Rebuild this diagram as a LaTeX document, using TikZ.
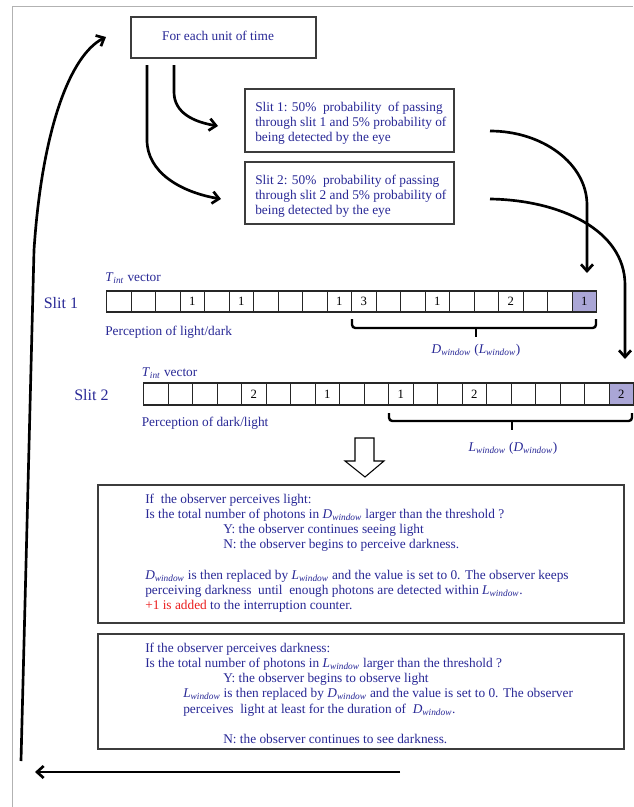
\documentclass[tikz,border=0pt]{standalone}
\usepackage{fontspec}
\setmainfont{Liberation Serif}
\usetikzlibrary{arrows.meta}
\definecolor{navy}{RGB}{40,40,150}
\definecolor{lav}{RGB}{170,166,214}
\definecolor{redtxt}{RGB}{235,30,30}
\definecolor{boxline}{RGB}{60,60,60}
\newcommand\Dwin{\textit{D}\textsubscript{\textit{window}}}
\newcommand\Lwin{\textit{L}\textsubscript{\textit{window}}}
\newcommand\Tintv{\textit{T}\textsubscript{\textit{int}}}
\begin{document}
\begin{tikzpicture}[x=0.75pt,y=-0.75pt,
  txt/.style={anchor=base west, inner sep=0pt, font=\fontsize{10}{12}\selectfont, text=navy},
  ctxt/.style={anchor=base, inner sep=0pt, font=\fontsize{10}{12}\selectfont, text=navy},
  slitlab/.style={anchor=base west, inner sep=0pt, font=\fontsize{12}{14}\selectfont, text=navy},
  box/.style={draw=boxline, line width=0.9pt, inner sep=0pt, outer sep=0pt},
  flow/.style={line width=2pt, -{Straight Barb[length=5pt,width=9pt]}},
  cell/.style={draw=black!85, line width=0.6pt, minimum width=18.375pt, minimum height=15.75pt, inner sep=0pt, outer sep=0pt},
  digit/.style={inner sep=0pt, font=\fontsize{9.5}{11}\selectfont},
  bracket/.style={line width=1.8pt, rounded corners=2.5pt},
  hollow/.style={draw=black, line width=0.8pt, fill=white}]
\useasboundingbox (0,0) rectangle (633,807);
\fill[white] (0,0) rectangle (633,807);
% frame
\draw[gray!60, line width=0.6pt] (12,807) -- (12,6) -- (633,6);

% top box
\node[box, minimum width=138.75pt, minimum height=30.75pt] (top) at (223.5,37.5) {};
\node[ctxt] (toptxt) at (218,40) {For each unit of time};

% slit boxes
\node[box, minimum width=156.75pt, minimum height=47.25pt] (s1box) at (349.5,120.5) {};
\node[txt] (s1l1) at (255,111) {Slit 1: 50\%\ \ probability\ \ of passing};
\node[txt] (s1l2) at (255,126) {through slit 1 and 5\% probability of};
\node[txt] (s1l3) at (255,141) {being detected by the eye};

\node[box, minimum width=156.75pt, minimum height=46.5pt] (s2box) at (349.5,193) {};
\node[txt] (s2l1) at (255,184) {Slit 2: 50\%\ \ probability of passing};
\node[txt] (s2l2) at (255,199) {through slit 2 and 5\% probability of};
\node[txt] (s2l3) at (255,214) {being detected by the eye};

% connectors top -> slits
\coordinate (aS) at (174,65);
\coordinate (aE) at (218,126);
\coordinate (bS) at (147,65);
\coordinate (bE) at (221,199);
\draw[flow] (aS) -- (174,92) .. controls (174,113) and (194,122) .. (aE);
\draw[flow] (bS) -- (147,140) .. controls (147,172) and (180,192) .. (bE);

% slit 1 row
\node[slitlab] (sl1) at (43.5,308) {Slit 1};
\node[txt] (tv1) at (105,281) {\Tintv\ vector};
\node[txt] (pc1) at (105,335) {Perception of light/dark};
\foreach \i in {0,...,18} \node[cell] (a\i) at ({118.75+\i*24.5},301.5) {};
\node[cell, fill=lav] (a19) at ({118.75+19*24.5},301.5) {};
\draw[black!85, line width=1.1pt] (106.5,291) rectangle (596.5,312);
\foreach \i/\v in {3/1,5/1,9/1,10/3,13/1,16/2,19/1} \node[digit] at (a\i) {\v};
\draw[bracket] (352,319) -- (352,328) -- (596,328) -- (596,319);
\draw[bracket] (476,328) -- (476,337);
\node[ctxt] (dl1) at (476,353) {\Dwin\ (\Lwin)};

% slit 2 row
\node[slitlab] (sl2) at (74,400) {Slit 2};
\node[txt] (tv2) at (141.5,376) {\Tintv\ vector};
\node[txt] (pc2) at (141.5,426) {Perception of dark/light};
\foreach \i in {0,...,18} \node[cell] (b\i) at ({155.75+\i*24.5},394) {};
\node[cell, fill=lav] (b19) at ({155.75+19*24.5},394) {};
\draw[black!85, line width=1.1pt] (143.5,383) rectangle (633.5,405);
\foreach \i/\v in {4/2,7/1,10/1,13/2,19/2} \node[digit] at (b\i) {\v};
\draw[bracket] (389,413) -- (389,421) -- (632,421) -- (632,413);
\draw[bracket] (512,421) -- (512,430);
\node[ctxt] (dl2) at (513,451) {\Lwin\ (\Dwin)};

% connectors slit boxes -> rows
\coordinate (cS) at (490,131);
\coordinate (cE) at (587,273);
\coordinate (dS) at (490,199);
\coordinate (dE) at (625,359);
\draw[flow] (cS) .. controls (543,131) and (587,164) .. (587,205) -- (cE);
\draw[flow] (dS) .. controls (560,200) and (625,230) .. (625,285) -- (dE);

% hollow down arrow
\draw[hollow] (355,438) -- (374,438) -- (374,461) -- (384,461) -- (365,477) -- (345,461) -- (355,461) -- cycle;

% lower box 1
\node[box, minimum width=394.5pt, minimum height=103.5pt] (lb1) at (361,554) {};
\node[txt] (l1a) at (145,503) {If\ \ the observer perceives light:};
\node[txt] (l1b) at (145,518) {Is the total number of photons in \Dwin\ larger than the threshold ?};
\node[txt] (l1c) at (223,533) {Y: the observer continues seeing light};
\node[txt] (l1d) at (223,548) {N: the observer begins to perceive darkness.};
\node[txt] (l1e) at (145,579) {\Dwin\ is then replaced by \Lwin\ and the value is set to 0. The observer keeps};
\node[txt] (l1f) at (145,594) {perceiving darkness\ \ until\ \ enough photons are detected within \Lwin.};
\node[txt] (l1g) at (145,609) {\textcolor{redtxt}{+1 is added} to the interruption counter.};

% lower box 2
\node[box, minimum width=394.5pt, minimum height=86.25pt] (lb2) at (361,691.5) {};
\node[txt] (l2a) at (145,652) {If the observer perceives darkness:};
\node[txt] (l2b) at (145,667) {Is the total number of photons in \Lwin\ larger than the threshold ?};
\node[txt] (l2c) at (223,682) {Y: the observer begins to observe light};
\node[txt] (l2d) at (183,697) {\Lwin\ is then replaced by \Dwin\ and the value is set to 0. The observer};
\node[txt] (l2e) at (183,713) {perceives\ \ light at least for the duration of\ \ \Dwin.};
\node[txt] (l2f) at (223,743) {N: the observer continues to see darkness.};

% return loop
\coordinate (rS) at (400,772);
\coordinate (rE) at (35,772);
\coordinate (uS) at (21,761);
\coordinate (uE) at (106,37);
\draw[flow] (rS) -- (rE);
\draw[flow] (uS) -- (34,250) .. controls (42,130) and (70,55) .. (uE);
\end{tikzpicture}
\end{document}
